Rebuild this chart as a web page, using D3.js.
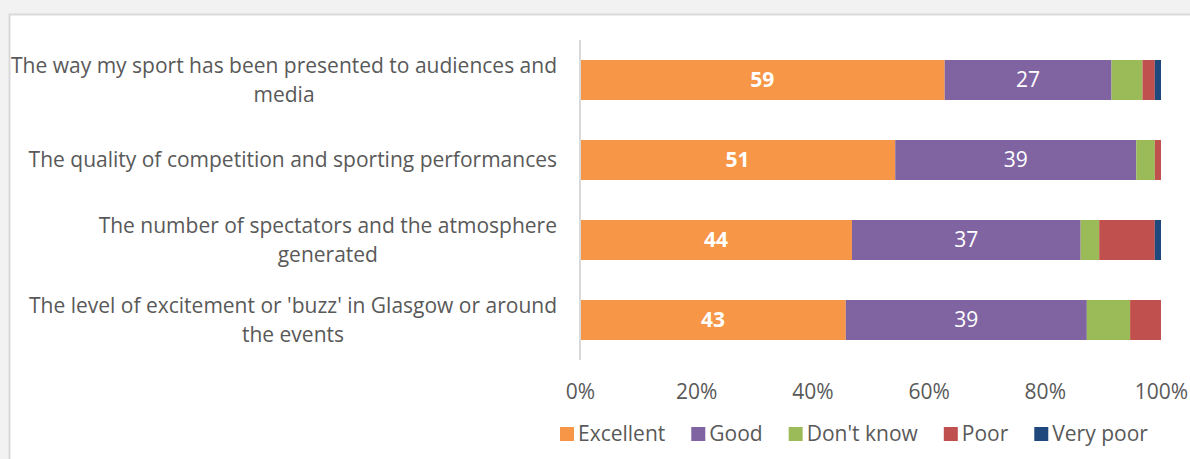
<!DOCTYPE html>
<html>
<head>
<meta charset="utf-8">
<script src="https://cdn.jsdelivr.net/npm/d3@7"></script>
<style>
  body { margin: 0; background: #f2f2f2; }
  svg { display: block; font-family: "Open Sans", sans-serif; }
</style>
</head>
<body>
<div id="chart"></div>
<script>
// Chart data
var categories = [
  ["The way my sport has been presented to audiences and", "media"],
  ["The quality of competition and sporting performances"],
  ["The number of spectators and the atmosphere", "generated"],
  ["The level of excitement or 'buzz' in Glasgow or around", "the events"]
];
var seriesNames = ["Excellent", "Good", "Don't know", "Poor", "Very poor"];
var excellent = [59, 51, 44, 43];
var good = [27, 39, 37, 39];
var dontKnow = [5, 3, 3, 7];
var poor = [2, 1, 9, 5];
var veryPoor = [1, 0, 1, 0];
var tickValues = [0, 0.2, 0.4, 0.6, 0.8, 1];
var colors = ["#f79646", "#8064a2", "#9bbb59", "#c0504d", "#1f497d"];

var w = 1190, h = 459;
var margin = {top: 40, left: 580, right: 29, bottom: 99};
var width = w - margin.left - margin.right;
var height = h - margin.top - margin.bottom;
var fontSize = "21px";

var svg = d3.select("#chart").append("svg")
  .attr("width", w)
  .attr("height", h);

// Background panel
svg.append("rect").attr("width", w).attr("height", h).attr("fill", "#f2f2f2");
svg.append("rect")
  .attr("x", 9.5).attr("y", 14.5)
  .attr("width", w).attr("height", h)
  .attr("fill", "#ffffff")
  .attr("stroke", "#d9d9d9")
  .attr("stroke-width", 2);

var g = svg.append("g")
  .attr("transform", "translate(" + margin.left + "," + margin.top + ")");

// Build rows
var rows = categories.map(function(c, i) {
  return {idx: i, "Excellent": excellent[i], "Good": good[i], "Don't know": dontKnow[i], "Poor": poor[i], "Very poor": veryPoor[i]};
});
var stack = d3.stack().keys(seriesNames).offset(d3.stackOffsetExpand);
var series = stack(rows);

var xScale = d3.scaleLinear().domain([0, 1]).range([0, width]);
var yScale = d3.scaleBand().domain(d3.range(categories.length)).range([0, height])
  .paddingInner(0.5).paddingOuter(0.25);

// Bars
g.selectAll("g.series").data(series).enter().append("g")
  .attr("class", "series")
  .attr("fill", function(d, i) { return colors[i]; })
  .selectAll("rect").data(function(d) { return d; }).enter().append("rect")
    .attr("x", function(d) { return xScale(d[0]); })
    .attr("y", function(d) { return yScale(d.data.idx); })
    .attr("width", function(d) { return xScale(d[1]) - xScale(d[0]); })
    .attr("height", yScale.bandwidth());

// Bar value labels (Excellent and Good)
[0, 1].forEach(function(s) {
  g.selectAll("text.lab" + s).data(series[s]).enter().append("text")
    .attr("x", function(d) { return (xScale(d[0]) + xScale(d[1])) / 2; })
    .attr("y", function(d) { return yScale(d.data.idx) + yScale.bandwidth() / 2; })
    .attr("dy", "0.35em")
    .attr("text-anchor", "middle")
    .attr("fill", "#ffffff")
    .attr("font-size", fontSize)
    .attr("font-weight", s == 0 ? 700 : 400)
    .text(function(d) { return d.data[seriesNames[s]]; });
});

// Y axis line
g.append("line")
  .attr("x1", 0).attr("x2", 0)
  .attr("y1", 0).attr("y2", height)
  .attr("stroke", "#d9d9d9")
  .attr("stroke-width", 2);

// Category labels: block right aligned, lines centred inside the block
categories.forEach(function(lines, i) {
  var cy = yScale(i) + yScale.bandwidth() / 2 - (lines.length - 1) * 14;
  var t = g.append("text")
    .attr("text-anchor", "middle")
    .attr("fill", "#595959")
    .attr("font-size", fontSize);
  t.selectAll("tspan").data(lines).enter().append("tspan")
    .attr("dy", function(d, j) { return j == 0 ? "0.35em" : "29px"; })
    .text(function(d) { return d; });
  var maxW = 0;
  t.selectAll("tspan").each(function() { maxW = Math.max(maxW, this.getComputedTextLength()); });
  t.attr("transform", "translate(" + (-23 - maxW / 2) + "," + cy + ")");
  t.selectAll("tspan").attr("x", 0);
});

// X axis tick labels
var xAxis = d3.axisBottom(xScale).tickValues(tickValues).tickSize(0).tickFormat(d3.format(".0%"));
var xg = g.append("g")
  .attr("transform", "translate(0," + (height + 21) + ")")
  .call(xAxis);
xg.select(".domain").remove();
xg.selectAll("text")
  .attr("fill", "#595959")
  .attr("font-size", fontSize)
  .attr("font-family", "'Open Sans', sans-serif");

// Legend
var legend = svg.append("g").attr("transform", "translate(560,434)");
var lx = 0;
seriesNames.forEach(function(name, i) {
  var item = legend.append("g").attr("transform", "translate(" + lx + ",0)");
  item.append("rect")
    .attr("x", 0).attr("y", -7)
    .attr("width", 14).attr("height", 14)
    .attr("fill", colors[i]);
  var t = item.append("text")
    .attr("x", 18).attr("dy", "0.35em")
    .attr("fill", "#595959")
    .attr("font-size", fontSize)
    .text(name);
  lx += 18 + t.node().getComputedTextLength() + 26;
});
</script>
</body>
</html>
